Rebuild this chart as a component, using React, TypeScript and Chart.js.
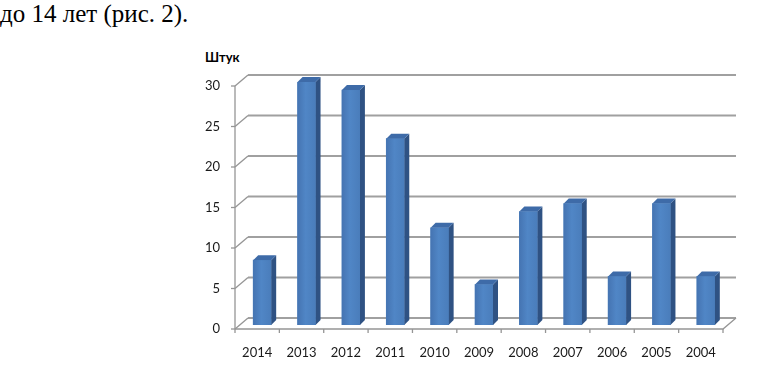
import React, { useEffect, useRef } from "react";
import { Chart, registerables } from "chart.js";

Chart.register(...registerables);

const categories = ["2014", "2013", "2012", "2011", "2010", "2009", "2008", "2007", "2006", "2005", "2004"];
const values = [8, 30, 29, 23, 12, 5, 14, 15, 6, 15, 6];
const yTicks = [0, 5, 10, 15, 20, 25, 30];

const FRONT_DX = -5;
const FRONT_DY = 4;
const BACK_DX = 8;
const BACK_DY = -7;
const BAR_DX = 5;
const BAR_DY = 5;

const threeD = {
  id: "threeD",
  beforeDatasetsDraw(chart: any) {
    const { ctx, chartArea } = chart;
    const ys = chart.scales.y;
    const left = chartArea.left;
    const right = chartArea.right;
    ctx.save();
    ctx.strokeStyle = "#a0a0a0";
    ctx.lineWidth = 2;
    yTicks.forEach((v) => {
      const y = ys.getPixelForValue(v);
      ctx.beginPath();
      ctx.moveTo(left + BACK_DX, y + BACK_DY);
      ctx.lineTo(right + BACK_DX, y + BACK_DY);
      ctx.stroke();
    });
    ctx.strokeStyle = "#959595";
    ctx.lineWidth = 1.3;
    yTicks.forEach((v) => {
      const y = ys.getPixelForValue(v);
      ctx.beginPath();
      ctx.moveTo(left + FRONT_DX, y + FRONT_DY);
      ctx.lineTo(left + BACK_DX, y + BACK_DY);
      ctx.stroke();
      ctx.beginPath();
      ctx.moveTo(left + FRONT_DX - 4, y + FRONT_DY);
      ctx.lineTo(left + FRONT_DX, y + FRONT_DY);
      ctx.stroke();
    });
    const yTop = ys.getPixelForValue(30) + FRONT_DY;
    const yBot = ys.getPixelForValue(0) + FRONT_DY;
    ctx.beginPath();
    ctx.moveTo(left + FRONT_DX, yTop);
    ctx.lineTo(left + FRONT_DX, yBot);
    ctx.stroke();
    const y0 = ys.getPixelForValue(0);
    ctx.beginPath();
    ctx.moveTo(left + FRONT_DX, y0 + FRONT_DY);
    ctx.lineTo(right + FRONT_DX, y0 + FRONT_DY);
    ctx.lineTo(right + BACK_DX, y0 + BACK_DY);
    ctx.stroke();
    const n = categories.length;
    const cw = (right - left) / n;
    for (let i = 0; i <= n; i++) {
      const x = left + FRONT_DX + i * cw;
      ctx.beginPath();
      ctx.moveTo(x, y0 + FRONT_DY);
      ctx.lineTo(x, y0 + FRONT_DY + 4);
      ctx.stroke();
    }
    ctx.restore();
  },
  afterDatasetsDraw(chart: any) {
    const { ctx } = chart;
    const meta = chart.getDatasetMeta(0);
    ctx.save();
    meta.data.forEach((bar: any) => {
      const { x, y, base, width } = bar.getProps(["x", "y", "base", "width"], true);
      const l = x - width / 2;
      const r = x + width / 2;
      ctx.fillStyle = "#2f5283";
      ctx.beginPath();
      ctx.moveTo(r, y);
      ctx.lineTo(r + BAR_DX, y - BAR_DY);
      ctx.lineTo(r + BAR_DX, base - BAR_DY);
      ctx.lineTo(r, base);
      ctx.closePath();
      ctx.fill();
      ctx.fillStyle = "#3e6ba8";
      ctx.beginPath();
      ctx.moveTo(l, y);
      ctx.lineTo(l + BAR_DX, y - BAR_DY);
      ctx.lineTo(r + BAR_DX, y - BAR_DY);
      ctx.lineTo(r, y);
      ctx.closePath();
      ctx.fill();
      const g = ctx.createLinearGradient(l, 0, r, 0);
      g.addColorStop(0, "#4574b2");
      g.addColorStop(0.45, "#5086c6");
      g.addColorStop(1, "#4a7dbb");
      ctx.fillStyle = g;
      ctx.fillRect(l, y, width, base - y);
    });
    ctx.restore();
  },
};

export default function App() {
  const ref = useRef<HTMLCanvasElement>(null);
  useEffect(() => {
    if (!ref.current) return;
    const chart = new Chart(ref.current, {
      type: "bar",
      data: {
        labels: categories,
        datasets: [
          {
            data: values,
            backgroundColor: "#4a7ebb",
            borderWidth: 0,
            barThickness: 18,
          },
        ],
      },
      options: {
        animation: false,
        responsive: false,
        maintainAspectRatio: false,
        layout: { padding: { left: 178, right: 36, top: 82, bottom: 0 } },
        plugins: { legend: { display: false }, tooltip: { enabled: false }, title: { display: false } },
        scales: {
          x: {
            grid: { display: false, drawTicks: false },
            border: { display: false },
            ticks: {
              padding: 20,
              labelOffset: FRONT_DX,
              color: "#1a1a1a",
              font: { family: "Lato", size: 13 },
              maxRotation: 0,
            },
            afterFit: (s: any) => {
              s.height = 51;
            },
          },
          y: {
            min: 0,
            max: 30,
            grid: { display: false, drawTicks: false },
            border: { display: false },
            ticks: {
              stepSize: 5,
              padding: 20,
              labelOffset: FRONT_DY,
              color: "#1a1a1a",
              font: { family: "Lato", size: 13 },
            },
            afterFit: (s: any) => {
              s.width = 62;
            },
          },
        },
      },
      plugins: [threeD],
    });
    return () => chart.destroy();
  }, []);
  return (
    <div style={{ position: "fixed", left: 0, top: 0, width: 764, height: 376, background: "#fff", overflow: "hidden" }}>
      <div
        style={{
          position: "absolute",
          left: 0,
          top: 1,
          font: "25px 'Liberation Serif', 'Times New Roman', serif",
          lineHeight: "25px",
          color: "#000",
          whiteSpace: "nowrap",
        }}
      >
        до 14 лет (рис. 2).
      </div>
      <div
        style={{
          position: "absolute",
          left: 205,
          top: 49,
          font: "bold 13px Lato",
          lineHeight: "16px",
          color: "#000",
        }}
      >
        Штук
      </div>
      <canvas ref={ref} width={764} height={376} style={{ position: "absolute", left: 0, top: 0, width: 764, height: 376 }} />
    </div>
  );
}
